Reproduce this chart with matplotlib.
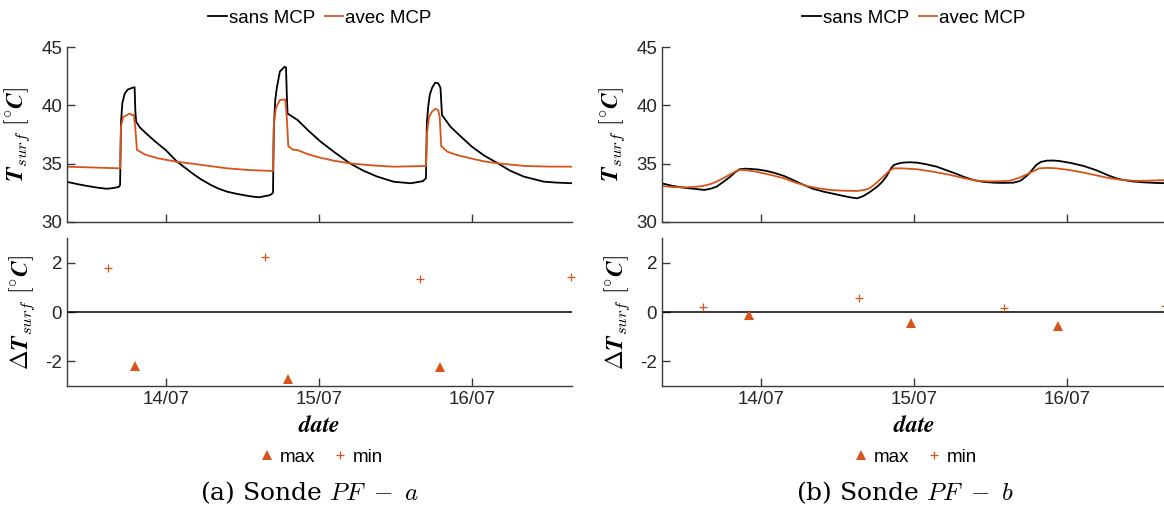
import numpy as np
import matplotlib.pyplot as plt

plt.rcParams['font.family'] = 'Liberation Sans'
plt.rcParams['mathtext.fontset'] = 'cm'
plt.rcParams['axes.unicode_minus'] = False

orange = '#D95319'
grey = '#262626'

# time in days of July (13.5 = 13/07 12:00)
tick_days = [14, 15, 16]
tick_labels = ['14/07', '15/07', '16/07']

# --- probe PF-a ---
a_t_sans = [13.35, 13.42, 13.48, 13.55, 13.61, 13.65, 13.69, 13.700, 13.706, 13.715, 13.73,
            13.75, 13.78, 13.795, 13.800, 13.805, 13.83, 13.87, 13.93, 14.00, 14.07, 14.13,
            14.18, 14.23, 14.29, 14.34, 14.40, 14.46, 14.53, 14.57, 14.61, 14.68,
            14.700, 14.705, 14.715, 14.725, 14.745, 14.775, 14.785, 14.790, 14.795, 14.83,
            14.86, 14.93, 15.01, 15.10, 15.20, 15.29, 15.38, 15.49, 15.60, 15.68,
            15.700, 15.706, 15.715, 15.725, 15.74, 15.76, 15.78, 15.795, 15.805, 15.86,
            15.93, 16.00, 16.08, 16.17, 16.25, 16.34, 16.47, 16.55, 16.66]
a_T_sans = [33.45, 33.25, 33.1, 32.95, 32.85, 32.9, 33.0, 33.15, 38.5, 40.2, 41.0,
            41.35, 41.5, 41.55, 39.5, 38.6, 38.1, 37.6, 36.9, 36.15, 35.2, 34.6,
            34.1, 33.65, 33.2, 32.88, 32.6, 32.42, 32.25, 32.17, 32.12, 32.3,
            32.5, 38.0, 40.5, 41.5, 42.9, 43.3, 43.25, 41.0, 39.3, 39.0,
            38.75, 37.85, 36.9, 36.0, 35.05, 34.4, 33.9, 33.45, 33.32, 33.5,
            33.75, 38.5, 39.9, 40.9, 41.5, 41.94, 41.9, 41.5, 39.17, 38.17,
            37.3, 36.46, 35.7, 35.03, 34.4, 33.89, 33.46, 33.38, 33.32]

a_t_avec = [13.35, 13.50, 13.70, 13.706, 13.72, 13.75, 13.76, 13.78, 13.79, 13.80, 13.81,
            13.84, 13.87, 13.95, 14.07, 14.20, 14.40, 14.55, 14.70, 14.706, 14.72, 14.745,
            14.78, 14.79, 14.80, 14.83, 14.86, 14.93, 15.00, 15.10, 15.20, 15.35, 15.49,
            15.70, 15.706, 15.72, 15.74, 15.76, 15.78, 15.79, 15.80, 15.84, 15.90, 15.99,
            16.08, 16.17, 16.35, 16.50, 16.66]
a_T_avec = [34.74, 34.68, 34.6, 38.2, 39.0, 39.2, 39.3, 39.15, 39.2, 38.0, 36.2,
            35.95, 35.75, 35.45, 35.17, 34.95, 34.6, 34.45, 34.37, 38.5, 39.8, 40.46,
            40.5, 39.0, 36.5, 36.2, 36.17, 35.8, 35.54, 35.25, 35.03, 34.85, 34.74,
            34.8, 37.5, 39.0, 39.46, 39.7, 39.6, 39.0, 36.5, 36.03, 35.75, 35.46,
            35.2, 35.03, 34.8, 34.75, 34.74]

a_t_max = [13.80, 14.80, 15.79]
a_d_max = [-2.2, -2.7, -2.23]
a_t_min = [13.62, 14.65, 15.66, 16.65]
a_d_min = [1.78, 2.23, 1.35, 1.4]

# --- probe PF-b ---
b_t_sans = [13.35, 13.42, 13.49, 13.56, 13.63, 13.67, 13.71, 13.75, 13.80, 13.83, 13.86,
            13.90, 13.93, 13.98, 14.04, 14.09, 14.15, 14.21, 14.28, 14.34, 14.41, 14.48,
            14.54, 14.59, 14.63, 14.67, 14.71, 14.76, 14.79, 14.82, 14.85, 14.87, 14.90,
            14.93, 14.97, 15.02, 15.08, 15.15, 15.21, 15.28, 15.33, 15.39, 15.45, 15.52,
            15.58, 15.65, 15.69, 15.71, 15.75, 15.80, 15.83, 15.87, 15.91, 15.95, 16.03,
            16.11, 16.19, 16.28, 16.33, 16.37, 16.43, 16.50, 16.58, 16.66]
b_T_sans = [33.32, 33.1, 32.95, 32.85, 32.75, 32.85, 33.03, 33.4, 33.89, 34.25, 34.52,
            34.57, 34.55, 34.5, 34.37, 34.2, 33.95, 33.6, 33.17, 32.85, 32.6, 32.4,
            32.23, 32.1, 32.03, 32.23, 32.55, 33.03, 33.4, 33.89, 34.6, 34.89, 35.02,
            35.09, 35.12, 35.09, 34.95, 34.74, 34.45, 34.12, 33.85, 33.6, 33.45, 33.37,
            33.35, 33.37, 33.5, 33.66, 34.1, 34.89, 35.15, 35.26, 35.27, 35.23, 35.05,
            34.8, 34.45, 33.95, 33.72, 33.6, 33.48, 33.4, 33.35, 33.32]

b_t_avec = [13.35, 13.42, 13.49, 13.56, 13.62, 13.67, 13.71, 13.76, 13.80, 13.84, 13.86,
            13.90, 13.97, 14.06, 14.15, 14.22, 14.30, 14.37, 14.45, 14.54, 14.63, 14.68,
            14.71, 14.75, 14.80, 14.84, 14.87, 14.92, 15.02, 15.13, 15.24, 15.33, 15.41,
            15.50, 15.58, 15.63, 15.69, 15.74, 15.78, 15.82, 15.87, 15.93, 16.02, 16.11,
            16.20, 16.27, 16.33, 16.40, 16.46, 16.55, 16.66]
b_T_avec = [33.09, 33.0, 32.97, 33.0, 33.09, 33.25, 33.46, 33.8, 34.09, 34.38, 34.46,
            34.45, 34.31, 34.05, 33.75, 33.4, 33.09, 32.9, 32.75, 32.68, 32.66, 32.76,
            32.89, 33.3, 33.89, 34.4, 34.6, 34.6, 34.52, 34.3, 34.03, 33.75, 33.54,
            33.48, 33.5, 33.54, 33.8, 34.09, 34.35, 34.6, 34.64, 34.6, 34.45, 34.23,
            33.98, 33.78, 33.66, 33.57, 33.52, 33.55, 33.6]

b_t_max = [13.92, 14.98, 15.94]
b_d_max = [-0.12, -0.44, -0.57]
b_t_min = [13.62, 14.64, 15.59, 16.64]
b_d_min = [0.19, 0.56, 0.18, 0.23]

panels = [
    (a_t_sans, a_T_sans, a_t_avec, a_T_avec, a_t_max, a_d_max, a_t_min, a_d_min, r'(a) Sonde $PF\ -\ a$'),
    (b_t_sans, b_T_sans, b_t_avec, b_T_avec, b_t_max, b_d_max, b_t_min, b_d_min, r'(b) Sonde $PF\ -\ b$'),
]


def style(ax):
    for side in ['top', 'right']:
        ax.spines[side].set_visible(False)
    for side in ['left', 'bottom']:
        ax.spines[side].set_color('#3a3a3a')
        ax.spines[side].set_linewidth(1.0)
    ax.tick_params(direction='in', length=6, width=1.0, colors='#3a3a3a',
                   labelcolor=grey, labelsize=13.5)
    ax.set_xlim(13.353, 16.655)
    ax.set_xticks(tick_days)


W, H = 1164.0, 511.0
lefts = [67, 662]
centers = [320, 914]
cap_x = [309, 905]

fig = plt.figure(figsize=(11.64, 5.11), dpi=100)

for i, (ts, Ts, ta, Ta, tmx, dmx, tmn, dmn, caption) in enumerate(panels):
    x0 = lefts[i] / W
    ax1 = fig.add_axes([x0, (H - 222) / H, 505 / W, 175 / H])
    ax2 = fig.add_axes([x0, (H - 386) / H, 505 / W, 148 / H])

    l1, = ax1.plot(ts, Ts, color='black', lw=1.3)
    l2, = ax1.plot(ta, Ta, color=orange, lw=1.3)
    style(ax1)
    ax1.set_ylim(30, 45)
    ax1.set_yticks([30, 35, 40, 45])
    ax1.set_xticklabels([])
    ax1.set_ylabel(r'$\mathbfit{T}_{surf}\ [^{\circ}\mathbfit{C}]$', fontsize=17)
    ax1.yaxis.set_label_coords(-0.07, 0.5)

    ax2.axhline(0, color='black', lw=1.1)
    p1, = ax2.plot(tmx, dmx, linestyle='none', marker='^', color=orange, ms=7, mew=0)
    p2, = ax2.plot(tmn, dmn, linestyle='none', marker='+', color=orange, ms=6, mew=0.9,
                   clip_on=False)
    style(ax2)
    ax2.set_ylim(-3, 3)
    ax2.set_yticks([-2, 0, 2])
    ax2.set_xticklabels(tick_labels)
    ax2.set_xlabel(r'$\mathbfit{date}$', fontsize=17, labelpad=5)
    ax2.set_ylabel(r'$\mathbf{\Delta}\mathbfit{T}_{surf}\ [^{\circ}\mathbfit{C}]$', fontsize=17)
    ax2.yaxis.set_label_coords(-0.06, 0.5)

    fig.legend([l1, l2], ['sans MCP', 'avec MCP'], loc='center', ncol=2, frameon=False,
               bbox_to_anchor=(centers[i] / W, 1 - 18 / H), fontsize=13.5,
               handlelength=1.0, handletextpad=0.1, columnspacing=0.5)
    fig.legend([p1, p2], ['max', 'min'], loc='center', ncol=2, frameon=False,
               bbox_to_anchor=(centers[i] / W, 1 - 457 / H), fontsize=13.5,
               handlelength=1.0, handletextpad=0.2, columnspacing=0.8)

    fig.text(cap_x[i] / W, 1 - 493 / H, caption, ha='center', va='center',
             family='DejaVu Serif', fontsize=18)

fig.savefig('out.png', dpi=100)
